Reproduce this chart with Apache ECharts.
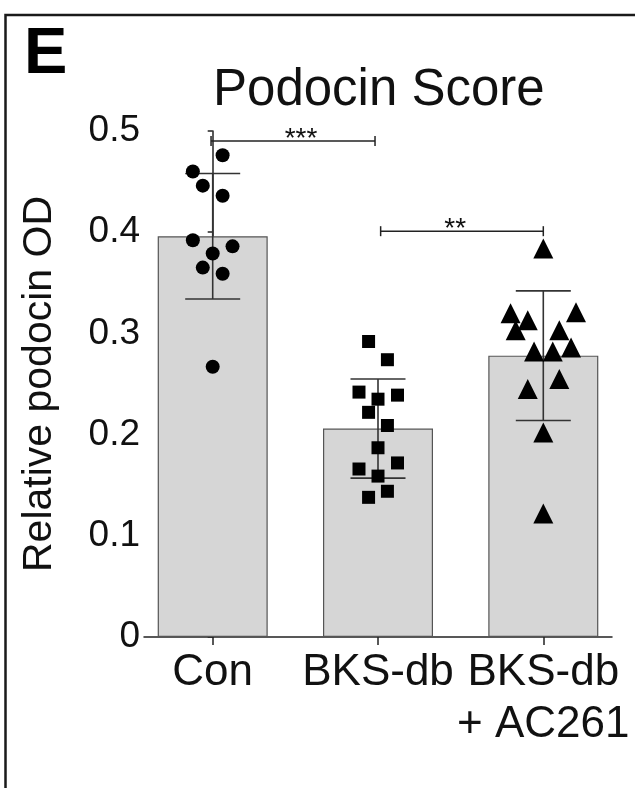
<!DOCTYPE html>
<html>
<head>
<meta charset="utf-8">
<script src="https://cdn.jsdelivr.net/npm/echarts@6/dist/echarts.min.js"></script>
<style>html,body{margin:0;padding:0;background:#fff}#c{width:635px;height:788px}</style>
</head>
<body>
<div id="c"></div>
<script>
// ---- data ----
var categories = ['Con', 'BKS-db', 'BKS-db\n+ AC261'];
var means = [0.396, 0.206, 0.278];
var sds = [0.062, 0.049, 0.064];

var conValues = [0.476, 0.460, 0.446, 0.436, 0.392, 0.386, 0.379, 0.365, 0.359, 0.267];
var conJitter = [0.06, -0.12, -0.06, 0.06, -0.12, 0.12, 0, -0.06, 0.06, 0];

var bksValues = [0.292, 0.274, 0.242, 0.239, 0.235, 0.222, 0.209, 0.187, 0.172, 0.166, 0.159, 0.144, 0.138];
var bksJitter = [-0.057, 0.057, -0.115, 0.118, 0, -0.057, 0.057, 0, 0.118, -0.115, 0, 0.057, -0.057];

var acValues = [0.384, 0.320, 0.321, 0.313, 0.303, 0.303, 0.286, 0.282, 0.282, 0.255, 0.245, 0.202, 0.122];
var acJitter = [0, -0.198, 0.198, -0.094, -0.167, 0.097, 0.168, -0.056, 0.057, 0.097, -0.094, 0, 0];

var yTicks = [0, 0.1, 0.2, 0.3, 0.4, 0.5];
// significance brackets: [from, to, level, star position, label]
var brackets = [
  [-0.01, 0.982, 0.490, 0.534, '***'],
  [1.016, 2.0, 0.401, 1.467, '**']
];

// ---- helpers ----
function pts(vals, jit, g) {
  return vals.map(function (v, i) { return [g + jit[i], v]; });
}
var barData = means.map(function (m, i) { return [i, m]; });
var errData = means.map(function (m, i) { return [i, m - sds[i], m + sds[i]]; });

var chart = echarts.init(document.getElementById('c'));
var FONT = 'Liberation Sans, Arial, sans-serif';
var axisColor = '#222';

chart.setOption({
  animation: false,
  backgroundColor: '#fff',
  graphic: [
    { type: 'rect', shape: { x: 5.5, y: 15, width: 700, height: 900 }, style: { fill: 'none', stroke: '#1a1a1a', lineWidth: 2.5 }, silent: true },
    { type: 'text', left: 24, top: 23, style: { text: 'E', font: 'bold 65px ' + FONT, fill: '#000' } },
    { type: 'text', left: 213, top: 65, style: { text: 'Podocin Score', font: '51px ' + FONT, fill: '#111' } }
  ],
  grid: { left: 144, right: 23, top: 131, bottom: 151 },
  xAxis: {
    type: 'value', min: -0.4156, max: 2.4156,
    splitLine: { show: false },
    axisLine: { show: true, lineStyle: { color: axisColor, width: 1.5 } },
    axisTick: { show: true, length: 8, customValues: [0, 1, 2], lineStyle: { color: axisColor, width: 1.5 } },
    axisLabel: {
      customValues: [0, 1, 2],
      formatter: function (v) { return categories[Math.round(v)]; },
      fontFamily: FONT, fontSize: 44, color: '#111', margin: 10, lineHeight: 52
    }
  },
  yAxis: {
    type: 'value', min: 0, max: 0.5, interval: 0.1,
    name: 'Relative podocin OD', nameLocation: 'middle', nameGap: 84,
    nameTextStyle: { fontFamily: FONT, fontSize: 41, color: '#111' },
    splitLine: { show: false },
    axisLine: { show: true, lineStyle: { color: axisColor, width: 1.5 } },
    axisTick: { show: true, length: 5, lineStyle: { color: axisColor, width: 1.5 } },
    axisLabel: {
      fontFamily: FONT, fontSize: 37, color: '#111', margin: 4,
      formatter: function (v) { var s = String(+v.toFixed(1)); return yTicks.indexOf(+s) >= 0 ? s : ''; }
    }
  },
  series: [
    {
      type: 'bar', data: barData, barWidth: 110, z: 1,
      itemStyle: { color: '#d6d6d6', borderColor: '#555', borderWidth: 1.2 }
    },
    {
      type: 'custom', z: 3, data: errData,
      renderItem: function (params, api) {
        var x = api.value(0);
        var lo = api.coord([x, api.value(1)]);
        var hi = api.coord([x, api.value(2)]);
        var cap = 27.5;
        var st = { stroke: '#333', lineWidth: 1.6 };
        return { type: 'group', children: [
          { type: 'line', shape: { x1: lo[0], y1: lo[1], x2: hi[0], y2: hi[1] }, style: st },
          { type: 'line', shape: { x1: lo[0] - cap, y1: lo[1], x2: lo[0] + cap, y2: lo[1] }, style: st },
          { type: 'line', shape: { x1: hi[0] - cap, y1: hi[1], x2: hi[0] + cap, y2: hi[1] }, style: st }
        ] };
      }
    },
    { type: 'scatter', z: 5, symbol: 'circle', symbolSize: 14, itemStyle: { color: '#000', opacity: 1 }, data: pts(conValues, conJitter, 0) },
    { type: 'scatter', z: 5, symbol: 'rect', symbolSize: 13, itemStyle: { color: '#000', opacity: 1 }, data: pts(bksValues, bksJitter, 1) },
    { type: 'scatter', z: 5, symbol: 'triangle', symbolSize: [20, 20], itemStyle: { color: '#000', opacity: 1 }, data: pts(acValues, acJitter, 2) },
    {
      type: 'custom', z: 4, data: brackets,
      renderItem: function (params, api) {
        var a = api.coord([api.value(0), api.value(2)]);
        var b = api.coord([api.value(1), api.value(2)]);
        var s = api.coord([api.value(3), api.value(2)]);
        var st = { stroke: '#222', lineWidth: 1.5 };
        return { type: 'group', children: [
          { type: 'line', shape: { x1: a[0], y1: a[1], x2: b[0], y2: b[1] }, style: st },
          { type: 'line', shape: { x1: a[0], y1: a[1] - 5, x2: a[0], y2: a[1] + 5 }, style: st },
          { type: 'line', shape: { x1: b[0], y1: b[1] - 5, x2: b[0], y2: b[1] + 5 }, style: st },
          { type: 'text', style: { text: brackets[params.dataIndex][4], x: s[0], y: s[1] - 2, align: 'center', verticalAlign: 'middle', font: '28px ' + FONT, fill: '#111' } }
        ] };
      }
    }
  ]
});
</script>
</body>
</html>
